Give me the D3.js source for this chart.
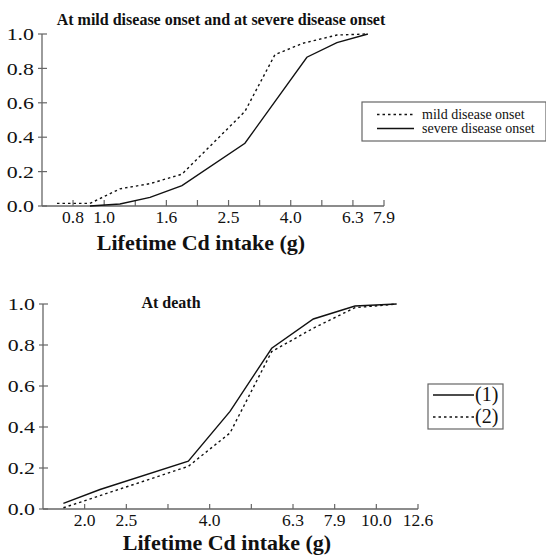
<!DOCTYPE html>
<html>
<head>
<meta charset="utf-8">
<script src="https://cdn.jsdelivr.net/npm/d3@7"></script>
<style>
  body { margin: 0; background: #fff; }
  text { font-family: "Liberation Serif", "Times New Roman", serif; fill: #111; }
</style>
</head>
<body>
<svg id="chart" width="546" height="557"></svg>
<script>
// Data (x = lifetime Cd intake in g, y = cumulative proportion)
const mildDose = [0.705, 0.90, 1.124, 1.404, 1.779, 2.836, 3.542, 4.357, 5.605, 7.0];
const mildOnset = [0.015, 0.015, 0.10, 0.13, 0.185, 0.55, 0.88, 0.946, 0.994, 1.0];
const severeDose = [0.90, 1.124, 1.404, 1.779, 2.836, 4.487, 5.605, 7.05];
const severeOnset = [0.0, 0.012, 0.05, 0.118, 0.365, 0.865, 0.95, 1.0];

const death1Dose = [1.774, 2.172, 3.538, 4.455, 5.609, 7.06, 8.887, 11.19];
const death1 = [0.027, 0.095, 0.233, 0.476, 0.784, 0.927, 0.99, 1.0];
const death2Dose = [1.774, 3.538, 4.455, 5.609, 7.06, 8.887, 11.19];
const death2 = [0.006, 0.208, 0.371, 0.768, 0.882, 0.982, 1.0];

// ticks on a log axis, every 0.1 decade
const topTicks = [0.794, 1.0, 1.259, 1.585, 1.995, 2.512, 3.162, 3.981, 5.012, 6.310, 7.943];
const topTickLabels = ["0.8", "1.0", "", "1.6", "", "2.5", "", "4.0", "", "6.3", "7.9"];
const bottomTicks = [1.995, 2.512, 3.162, 3.981, 5.012, 6.310, 7.943, 10.0, 12.589];
const bottomTickLabels = ["2.0", "2.5", "", "4.0", "", "6.3", "7.9", "10.0", "12.6"];
const yTicks = [0, 0.2, 0.4, 0.6, 0.8, 1.0];

const svg = d3.select("#chart");
const axisColor = "#666";

const panel = (cfg) => {
  const x = d3.scaleLog().domain(cfg.xDomain).range([cfg.left, cfg.right]);
  const y = d3.scaleLinear().domain([0, 1]).range([cfg.bottom, cfg.top]);
  const g = svg.append("g");

  // axes
  g.append("line").attr("x1", cfg.left).attr("x2", cfg.left)
    .attr("y1", cfg.bottom).attr("y2", cfg.top)
    .attr("stroke", axisColor).attr("stroke-width", 1.3);
  g.append("line").attr("x1", cfg.left).attr("x2", cfg.right)
    .attr("y1", cfg.bottom).attr("y2", cfg.bottom)
    .attr("stroke", axisColor).attr("stroke-width", 1.3);

  // y ticks (cross the axis)
  g.selectAll(".yt").data(yTicks).join("line")
    .attr("x1", cfg.left - 4).attr("x2", cfg.left + 5)
    .attr("y1", d => y(d)).attr("y2", d => y(d))
    .attr("stroke", axisColor).attr("stroke-width", 1.2);
  g.selectAll(".yl").data(yTicks).join("text")
    .attr("text-anchor", "end")
    .attr("dominant-baseline", "central")
    .attr("font-size", 17.5)
    .attr("transform", d => `translate(${cfg.left - 8},${y(d)}) scale(1.25,1)`)
    .text(d => d.toFixed(1));

  // x ticks point inward
  g.selectAll(".xt").data(cfg.ticks).join("line")
    .attr("x1", d => x(d)).attr("x2", d => x(d))
    .attr("y1", cfg.bottom).attr("y2", cfg.bottom - cfg.tickLen)
    .attr("stroke", axisColor).attr("stroke-width", 1.2);
  g.selectAll(".xl").data(cfg.ticks).join("text")
    .attr("x", d => x(d)).attr("y", cfg.bottom + 17)
    .attr("text-anchor", "middle")
    .attr("font-size", 17.5)
    .text((d, i) => cfg.tickLabels[i]);

  g.append("text").attr("x", cfg.xLabelX).attr("y", cfg.xLabelY)
    .attr("text-anchor", "middle").attr("font-size", 22).attr("font-weight", "bold")
    .text("Lifetime Cd intake (g)");

  g.append("text").attr("x", cfg.titleX).attr("y", cfg.titleY)
    .attr("text-anchor", "middle").attr("font-size", 16).attr("font-weight", "bold")
    .text(cfg.title);

  const line = d3.line().x(d => x(d[0])).y(d => y(d[1]));
  cfg.series.forEach(s => {
    g.append("path")
      .datum(d3.zip(s.xs, s.ys))
      .attr("d", line)
      .attr("fill", "none")
      .attr("stroke", "#111")
      .attr("stroke-width", 1.4)
      .attr("stroke-dasharray", s.dashed ? "2.5,3" : null);
  });

  // legend
  const lg = g.append("g");
  lg.append("rect").attr("x", cfg.legend.x).attr("y", cfg.legend.y)
    .attr("width", cfg.legend.w).attr("height", cfg.legend.h)
    .attr("fill", "#fff").attr("stroke", axisColor).attr("stroke-width", 1.2);
  cfg.series.forEach((s, i) => {
    const ly = cfg.legend.y + cfg.legend.row0 + i * cfg.legend.rowGap;
    lg.append("line")
      .attr("x1", cfg.legend.x + cfg.legend.lx0).attr("x2", cfg.legend.x + cfg.legend.lx1)
      .attr("y1", ly).attr("y2", ly)
      .attr("stroke", "#111").attr("stroke-width", 1.3)
      .attr("stroke-dasharray", s.dashed ? "2.5,3" : null);
    lg.append("text")
      .attr("x", cfg.legend.x + cfg.legend.tx).attr("y", ly)
      .attr("dy", "0.3em")
      .attr("font-size", cfg.legend.fs)
      .text(s.name);
  });
};

panel({
  xDomain: [Math.pow(10, -0.2), Math.pow(10, 0.9)],
  left: 42, right: 384, top: 34, bottom: 206, tickLen: 6,
  ticks: topTicks, tickLabels: topTickLabels,
  xLabelX: 201, xLabelY: 250,
  titleX: 221, titleY: 25,
  title: "At mild disease onset and at severe disease onset",
  series: [
    {name: "mild disease onset", xs: mildDose, ys: mildOnset, dashed: true},
    {name: "severe disease onset", xs: severeDose, ys: severeOnset, dashed: false}
  ],
  legend: {x: 362, y: 102, w: 184, h: 39, row0: 12.5, rowGap: 14, lx0: 15, lx1: 52, tx: 60, fs: 14}
});

panel({
  xDomain: [Math.pow(10, 0.2), Math.pow(10, 1.1)],
  left: 43, right: 418, top: 304, bottom: 509, tickLen: 5,
  ticks: bottomTicks, tickLabels: bottomTickLabels,
  xLabelX: 227, xLabelY: 550,
  titleX: 171, titleY: 308,
  title: "At death",
  series: [
    {name: "(1)", xs: death1Dose, ys: death1, dashed: false},
    {name: "(2)", xs: death2Dose, ys: death2, dashed: true}
  ],
  legend: {x: 428, y: 384, w: 75, h: 45, row0: 11, rowGap: 22, lx0: 5, lx1: 46, tx: 47, fs: 20}
});
</script>
</body>
</html>
